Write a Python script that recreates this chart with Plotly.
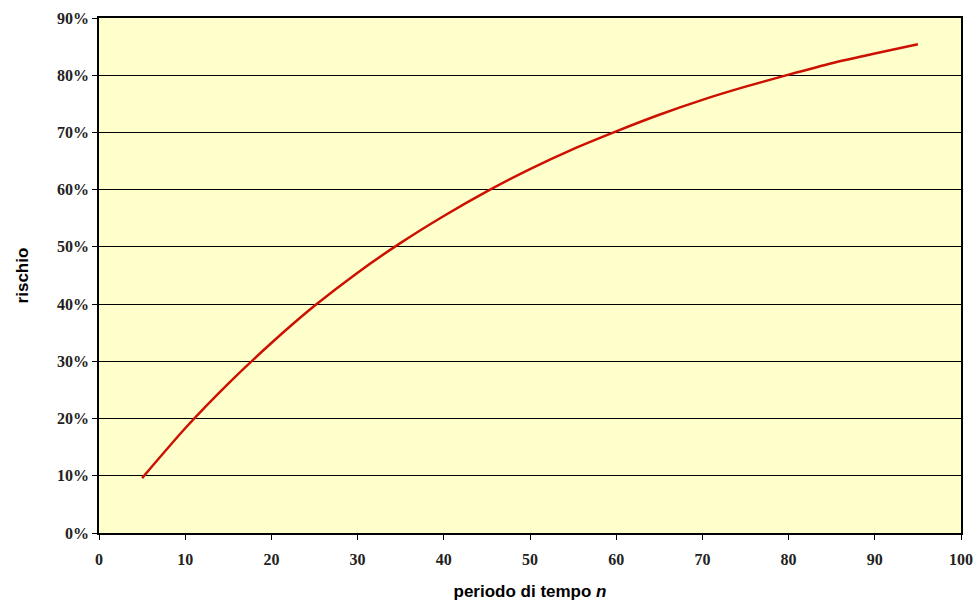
import plotly.graph_objects as go

periods = [5, 10, 15, 20, 25, 30, 35, 40, 45, 50, 55, 60, 65, 70, 75, 80, 85, 90, 95]
risk = [0.096, 0.183, 0.261, 0.332, 0.397, 0.455, 0.507, 0.554, 0.597, 0.636,
        0.671, 0.702, 0.731, 0.757, 0.780, 0.801, 0.821, 0.838, 0.854]
x_ticks = list(range(0, 101, 10))
x_labels = [str(v) for v in x_ticks]
y_ticks = [i / 10 for i in range(0, 10)]
y_labels = [f"{i*10}%" for i in range(0, 10)]

fig = go.Figure()
fig.add_trace(go.Scatter(x=periods, y=risk, mode="lines",
                         line=dict(color="#CC1100", width=2.5, shape="spline", smoothing=0.6),
                         showlegend=False))

tickfont = dict(family="Liberation Serif", size=16, color="#222222")
fig.update_layout(
    width=979, height=611,
    margin=dict(l=99, r=18, t=18, b=78, autoexpand=False),
    paper_bgcolor="white",
    plot_bgcolor="#FFFFCC",
    xaxis=dict(range=[0, 100], tickvals=x_ticks,
               ticktext=[f"<b>{t}</b>" for t in x_labels],
               ticks="outside", ticklen=5, automargin=False, ticklabelstandoff=6,
               tickcolor="black", showline=True, linecolor="black", linewidth=1.5,
               mirror=True, showgrid=False, zeroline=False,
               tickfont=tickfont,
               title=dict(text="<b>periodo di tempo <i>n</i></b>",
                          font=dict(family="Liberation Sans", size=17, color="black"),
                          standoff=18)),
    yaxis=dict(range=[0, 0.9], tickvals=y_ticks,
               ticktext=[f"<b>{t}</b>" for t in y_labels],
               ticks="outside", ticklen=5, tickcolor="black", automargin=False,
               showline=True, linecolor="black", linewidth=1.5, mirror=True,
               showgrid=True, gridcolor="black", gridwidth=1.2, zeroline=False,
               tickfont=tickfont,
               title=dict(text="<b>rischio</b>",
                          font=dict(family="Liberation Sans", size=17, color="black"),
                          standoff=24)),
)

fig.write_html("out.html",
               config={"displayModeBar": False},
               post_script="document.body.style.margin='0';document.body.style.overflow='hidden';")
